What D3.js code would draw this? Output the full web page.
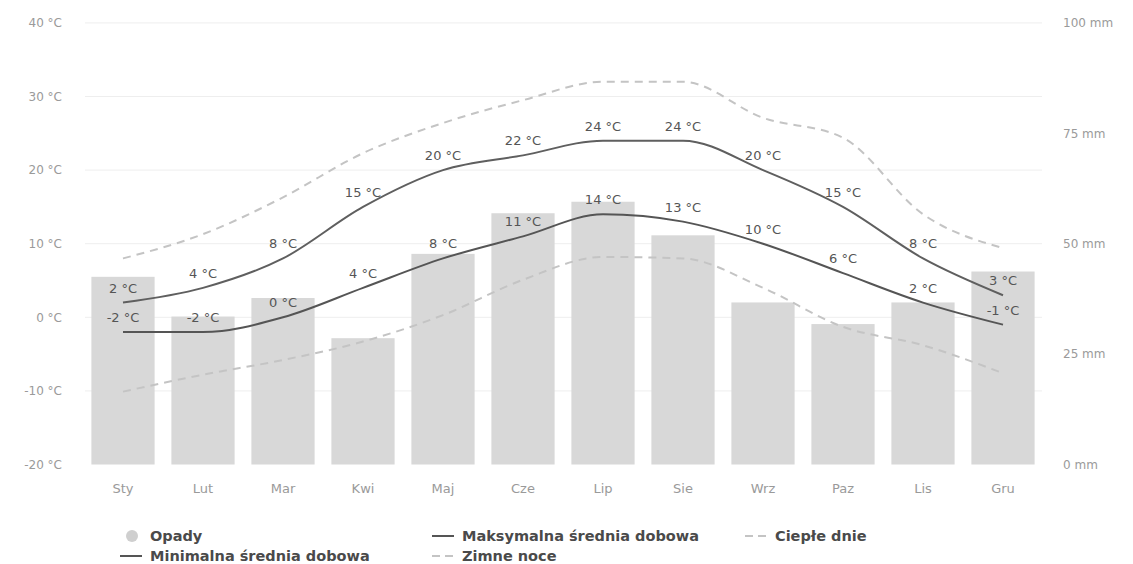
<!DOCTYPE html>
<html><head><meta charset="utf-8">
<script src="https://cdn.jsdelivr.net/npm/d3@7"></script>
<style>
html,body{margin:0;padding:0;background:#fff;}
svg{display:block;font-family:"DejaVu Sans",sans-serif;}
</style></head>
<body><svg id="c" width="1133" height="564"></svg>
<script>
const months = ["Sty","Lut","Mar","Kwi","Maj","Cze","Lip","Sie","Wrz","Paz","Lis","Gru"];
const precip = [42.5,33.5,37.7,28.6,47.7,56.9,59.5,51.9,36.7,31.8,36.7,43.7];
const maxTemp = [2,4,8,15,20,22,24,24,20,15,8,3];
const minTemp = [-2,-2,0,4,8,11,14,13,10,6,2,-1];
const warmDays = [8,11.3,16.3,22.3,26.4,29.5,32,32,27.1,24.4,14,9.4];
const coldNights = [-10.1,-7.8,-5.8,-3.3,0.3,5.1,8.2,8,4,-1.3,-3.8,-7.6];
const tempTicks = [-20,-10,0,10,20,30,40];
const mmTicks = [0,25,50,75,100];
const legendItems = [
  {name:"Opady", type:"bar"},
  {name:"Maksymalna średnia dobowa", type:"solid"},
  {name:"Ciepłe dnie", type:"dash"},
  {name:"Minimalna średnia dobowa", type:"solid"},
  {name:"Zimne noce", type:"dash"}
];

const svg = d3.select("#c");
const x = d3.scaleBand().domain(months).range([83,1043]).paddingInner(0.21).paddingOuter(0.105);
const yT = d3.scaleLinear().domain([-20,40]).range([464.5,22.9]);
const yP = d3.scaleLinear().domain([0,100]).range([464.5,22.9]);
const cx = m => x(m) + x.bandwidth()/2;

// grid
svg.append("g").selectAll("line").data(tempTicks.slice(1)).join("line")
  .attr("x1",85).attr("x2",1042).attr("y1",d=>yT(d)).attr("y2",d=>yT(d))
  .attr("stroke","#eeeeee").attr("stroke-width",1);

// axes
const axL = svg.append("g").attr("transform","translate(62,0)")
  .call(d3.axisLeft(yT).tickValues(tempTicks).tickFormat(d=>d+" °C").tickSize(0).tickPadding(0));
const axR = svg.append("g").attr("transform","translate(1063,0)")
  .call(d3.axisRight(yP).tickValues(mmTicks).tickFormat(d=>d+" mm").tickSize(0).tickPadding(0));
const axB = svg.append("g").attr("transform","translate(0,466)")
  .call(d3.axisBottom(x).tickSize(0).tickPadding(18));
[axL,axR,axB].forEach(a=>{a.select(".domain").remove();
  a.selectAll("text").attr("fill","#9a9a9a").style("font-size","12px").style("font-family","DejaVu Sans, sans-serif");});
axB.selectAll("text").style("font-size","13px");

// bars
svg.append("g").selectAll("rect").data(months).join("rect")
  .attr("x",d=>x(d)).attr("width",x.bandwidth())
  .attr("y",(d,i)=>yP(precip[i])).attr("height",(d,i)=>yP(0)-yP(precip[i]))
  .attr("fill","#d8d8d8");

const line = d3.line().x((d,i)=>cx(months[i])).y(d=>yT(d)).curve(d3.curveMonotoneX);
function drawLine(data, color, dash){
  svg.append("path").datum(data).attr("d",line).attr("fill","none")
    .attr("stroke",color).attr("stroke-width",2).attr("stroke-dasharray",dash||null);
}
drawLine(warmDays,"#c4c4c4","8,6");
drawLine(coldNights,"#c4c4c4","8,6");
drawLine(minTemp,"#555555");
drawLine(maxTemp,"#5f5f5f");

function labels(data){
  svg.append("g").selectAll("text").data(data).join("text")
    .attr("x",(d,i)=>cx(months[i])).attr("y",d=>yT(d)-10)
    .attr("text-anchor","middle").attr("fill","#555").style("font-size","13px")
    .text(d=>d+" °C");
}
labels(maxTemp);
labels(minTemp);

// legend
const colX = [120,432,745];
const lg = svg.append("g");
legendItems.forEach((it,i)=>{
  const col = i%3, row = Math.floor(i/3);
  const gx = colX[col], gy = 536 + row*20;
  const g = lg.append("g").attr("transform",`translate(${gx},${gy})`);
  if(it.type==="bar"){
    g.append("circle").attr("cx",12).attr("cy",0).attr("r",6).attr("fill","#cfcfcf");
  } else if(it.type==="solid"){
    g.append("line").attr("x1",0).attr("x2",22).attr("y1",0).attr("y2",0).attr("stroke","#555").attr("stroke-width",2);
  } else {
    g.append("line").attr("x1",0).attr("x2",22).attr("y1",0).attr("y2",0).attr("stroke","#c4c4c4").attr("stroke-width",2).attr("stroke-dasharray","8,5");
  }
  g.append("text").attr("x",30).attr("y",5).attr("fill","#4a4a4a").style("font-size","14.5px").style("font-weight","bold")
    .style("font-family","DejaVu Sans, sans-serif").text(it.name);
});
</script></body></html>
